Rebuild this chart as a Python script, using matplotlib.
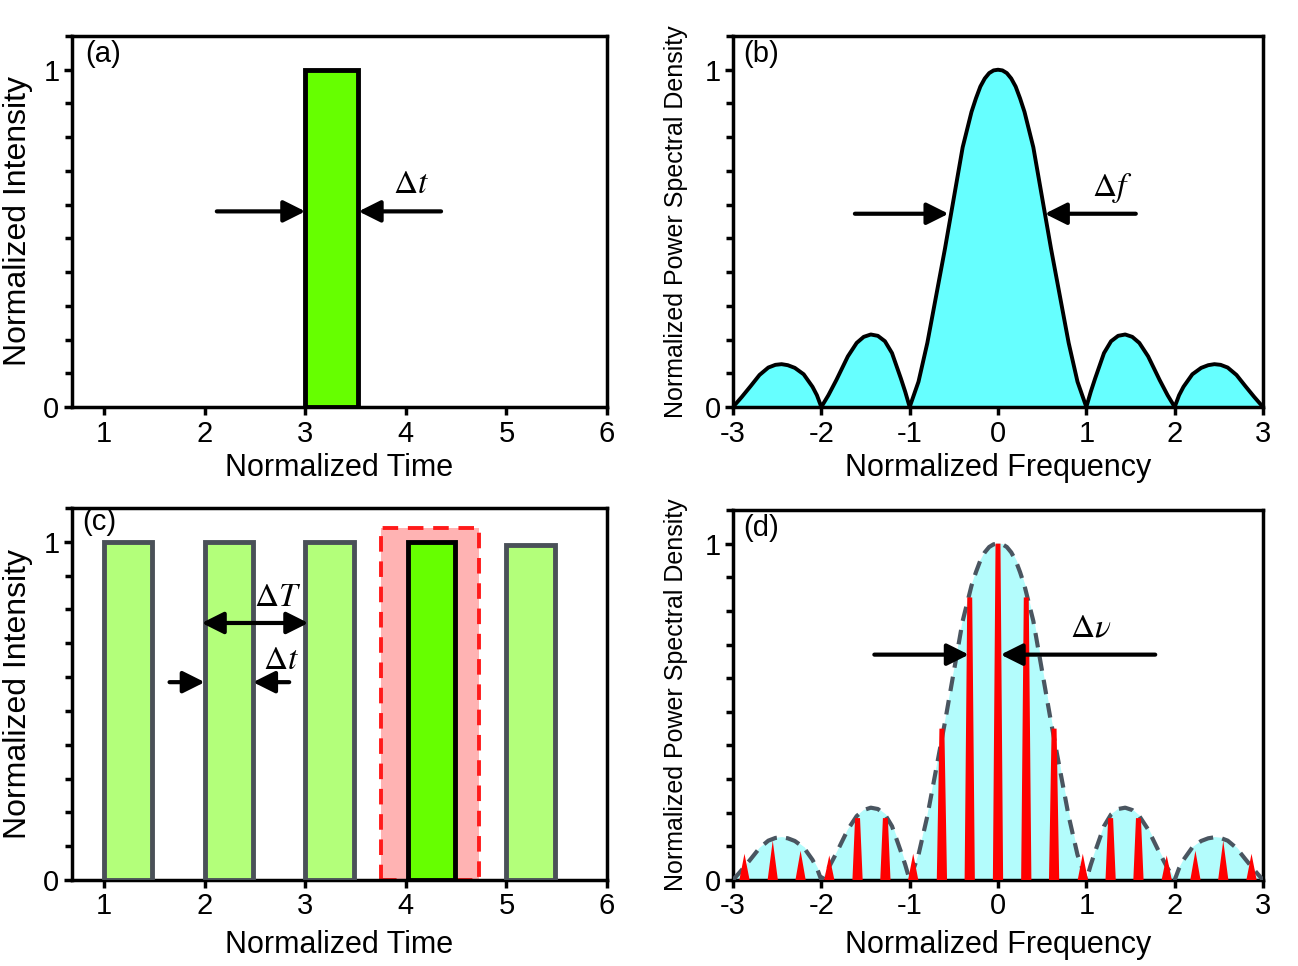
import numpy as np
import matplotlib
matplotlib.use("Agg")
import matplotlib.pyplot as plt
from matplotlib.ticker import MultipleLocator, FixedLocator
from matplotlib.patches import Rectangle

plt.rcParams['font.family'] = ['Liberation Sans', 'DejaVu Sans']
plt.rcParams['mathtext.fontset'] = 'stix'
plt.rcParams['axes.unicode_minus'] = False

# (a) single pulse
pulse_start = [3.0]
pulse_width = [0.52]
pulse_height = [1.0]

# (c) pulse train, the 4th one is highlighted
train_start = [1.0, 2.0, 3.0, 4.02, 5.0]
train_width = [0.48, 0.48, 0.48, 0.47, 0.48]
train_height = [1.0, 1.0, 1.0, 1.0, 0.99]
highlight = 3
window_x = [3.75, 4.73]
window_top = 1.04

# spectral envelope (b) and (d)
freq = [-3.0, -2.9, -2.8, -2.7, -2.6, -2.52, -2.45, -2.38, -2.3, -2.2, -2.1, -2.05, -2.0,
        -1.92, -1.83, -1.7, -1.6, -1.52, -1.44, -1.36, -1.28, -1.2, -1.1, -1.05, -1.0,
        -0.9, -0.8, -0.7, -0.6, -0.5, -0.4, -0.3, -0.25, -0.2, -0.15, -0.1, -0.05, 0.0,
        0.05, 0.1, 0.15, 0.2, 0.25, 0.3, 0.4, 0.5, 0.6, 0.7, 0.8, 0.9, 1.0,
        1.05, 1.1, 1.2, 1.28, 1.36, 1.44, 1.52, 1.6, 1.7, 1.83, 1.92, 2.0,
        2.05, 2.1, 2.2, 2.3, 2.38, 2.45, 2.52, 2.6, 2.7, 2.8, 2.9, 3.0]
psd = [0.0, 0.03, 0.062, 0.095, 0.117, 0.125, 0.127, 0.124, 0.116, 0.097, 0.06, 0.035, 0.0,
       0.035, 0.08, 0.15, 0.19, 0.208, 0.215, 0.211, 0.195, 0.16, 0.085, 0.045, 0.0,
       0.075, 0.19, 0.33, 0.47, 0.62, 0.77, 0.875, 0.915, 0.95, 0.974, 0.99, 0.998, 1.0,
       0.998, 0.99, 0.974, 0.95, 0.915, 0.875, 0.77, 0.62, 0.47, 0.33, 0.19, 0.075, 0.0,
       0.045, 0.085, 0.16, 0.195, 0.211, 0.215, 0.208, 0.19, 0.15, 0.08, 0.035, 0.0,
       0.035, 0.06, 0.097, 0.116, 0.124, 0.127, 0.125, 0.117, 0.095, 0.062, 0.03, 0.0]

# (d) comb lines
comb_freq = [-2.87, -2.55, -2.235, -1.91, -1.59, -1.275, -0.96, -0.635, -0.32, 0.0,
             0.32, 0.635, 0.96, 1.275, 1.59, 1.91, 2.235, 2.55, 2.87]
comb_height = [0.078, 0.117, 0.087, 0.073, 0.184, 0.184, 0.078, 0.45, 0.84, 1.0,
               0.84, 0.45, 0.078, 0.184, 0.184, 0.073, 0.087, 0.117, 0.078]

green = '#66ff00'
light_green = '#b3ff7a'
cyan = '#66ffff'
light_cyan = '#b3fcfc'

fig = plt.figure(figsize=(12.98, 9.66), dpi=100)
W, H = 1298, 966

def make_axes(l, r, t, b):
    return fig.add_axes([l / W, 1 - b / H, (r - l) / W, (b - t) / H])

ax_a = make_axes(72, 607, 36, 407)
ax_b = make_axes(733, 1263, 36, 407)
ax_c = make_axes(72, 607, 508, 880)
ax_d = make_axes(733, 1263, 510, 880)

def style(ax, xlabel, ylabel, ysize):
    for s in ax.spines.values():
        s.set_linewidth(2.5)
    ax.set_ylim(0, 1.1)
    ax.yaxis.set_major_locator(FixedLocator([0, 1]))
    ax.yaxis.set_minor_locator(MultipleLocator(0.1))
    ax.tick_params(which='major', direction='out', length=6, width=2.5,
                   labelsize=21, pad=3)
    ax.tick_params(which='minor', direction='out', length=5, width=2.5)
    ax.tick_params(axis='x', which='minor', bottom=False)
    ax.set_xlabel(xlabel, fontsize=22)
    ax.set_ylabel(ylabel, fontsize=ysize)

arrow = dict(arrowstyle='-|>,head_length=0.6,head_width=0.3', color='k',
             lw=3, mutation_scale=22, shrinkA=0, shrinkB=0)

def harrow(ax, tail, tip, y):
    ax.annotate('', xy=(tip, y), xytext=(tail, y), arrowprops=arrow, zorder=6)

# ---- (a)
ax_a.bar(pulse_start, pulse_height, width=pulse_width, align='edge',
         color=green, edgecolor='k', linewidth=3.5, zorder=3)
ax_a.set_xlim(0.68, 6)
ax_a.set_xticks([1, 2, 3, 4, 5, 6])
style(ax_a, 'Normalized Time', 'Normalized Intensity', 23)
harrow(ax_a, 2.12, 3.0, 0.58)
harrow(ax_a, 4.35, 3.53, 0.58)
ax_a.text(4.05, 0.66, r'$\Delta t$', fontsize=24, ha='center', va='center')
ax_a.text(0.025, 0.99, '(a)', transform=ax_a.transAxes, fontsize=21, va='top')

# ---- (b)
ax_b.fill_between(freq, psd, 0, color=cyan, zorder=2)
ax_b.plot(freq, psd, color='k', lw=2.8, zorder=3, solid_joinstyle='round')
ax_b.set_xlim(-3, 3)
ax_b.set_xticks([-3, -2, -1, 0, 1, 2, 3])
style(ax_b, 'Normalized Frequency', 'Normalized Power Spectral Density', 18)
harrow(ax_b, -1.62, -0.56, 0.573)
harrow(ax_b, 1.56, 0.53, 0.573)
ax_b.text(1.29, 0.65, r'$\Delta f$', fontsize=24, ha='center', va='center')
ax_b.text(0.02, 0.99, '(b)', transform=ax_b.transAxes, fontsize=21, va='top')

# ---- (c)
ax_c.add_patch(Rectangle((window_x[0], 0), window_x[1] - window_x[0], window_top,
                         facecolor='#ffb3b3', edgecolor='#ff1a1a', lw=2.8,
                         ls=(0, (4, 2.5)), zorder=2, clip_on=False))
for i in range(len(train_start)):
    if i == highlight:
        fc, ec = green, 'k'
    else:
        fc, ec = light_green, '#4a5058'
    ax_c.bar(train_start[i], train_height[i], width=train_width[i], align='edge',
             color=fc, edgecolor=ec, linewidth=3.5, zorder=3)
ax_c.set_xlim(0.68, 6)
ax_c.set_xticks([1, 2, 3, 4, 5, 6])
style(ax_c, 'Normalized Time', 'Normalized Intensity', 23)
ax_c.annotate('', xy=(3.03, 0.76), xytext=(1.97, 0.76),
              arrowprops=dict(arrow, arrowstyle='<|-|>,head_length=0.6,head_width=0.3'),
              zorder=6)
ax_c.text(2.72, 0.835, r'$\Delta T$', fontsize=24, ha='center', va='center')
harrow(ax_c, 1.65, 2.0, 0.585)
harrow(ax_c, 2.84, 2.48, 0.585)
ax_c.text(2.76, 0.65, r'$\Delta t$', fontsize=24, ha='center', va='center')
ax_c.text(0.02, 1.0, '(c)', transform=ax_c.transAxes, fontsize=21, va='top', zorder=7)

# ---- (d)
ax_d.fill_between(freq, psd, 0, color=light_cyan, zorder=2)
ax_d.plot(freq, psd, color='#4a5560', lw=3, ls=(0, (3.5, 2.2)), zorder=3)
for f, h in zip(comb_freq, comb_height):
    top = 0.028 if h > 0.15 else 0.0
    ax_d.fill([f - 0.058, f - top, f + top, f + 0.058], [0, h, h, 0],
              color='#ff0000', lw=0, zorder=4)
ax_d.set_xlim(-3, 3)
ax_d.set_xticks([-3, -2, -1, 0, 1, 2, 3])
style(ax_d, 'Normalized Frequency', 'Normalized Power Spectral Density', 18)
harrow(ax_d, -1.40, -0.33, 0.67)
harrow(ax_d, 1.78, 0.03, 0.67)
ax_d.text(1.05, 0.75, r'$\Delta\nu$', fontsize=24, ha='center', va='center')
ax_d.text(0.02, 0.99, '(d)', transform=ax_d.transAxes, fontsize=21, va='top')

for ax in (ax_a, ax_c):
    ax.yaxis.set_label_coords(-0.072, 0.5)
for ax in (ax_b, ax_d):
    ax.yaxis.set_label_coords(-0.085, 0.5)
for ax in (ax_a, ax_b):
    ax.xaxis.set_label_coords(0.5, -0.125)
for ax in (ax_c, ax_d):
    ax.xaxis.set_label_coords(0.5, -0.135)

fig.savefig('out.png', dpi=100)
